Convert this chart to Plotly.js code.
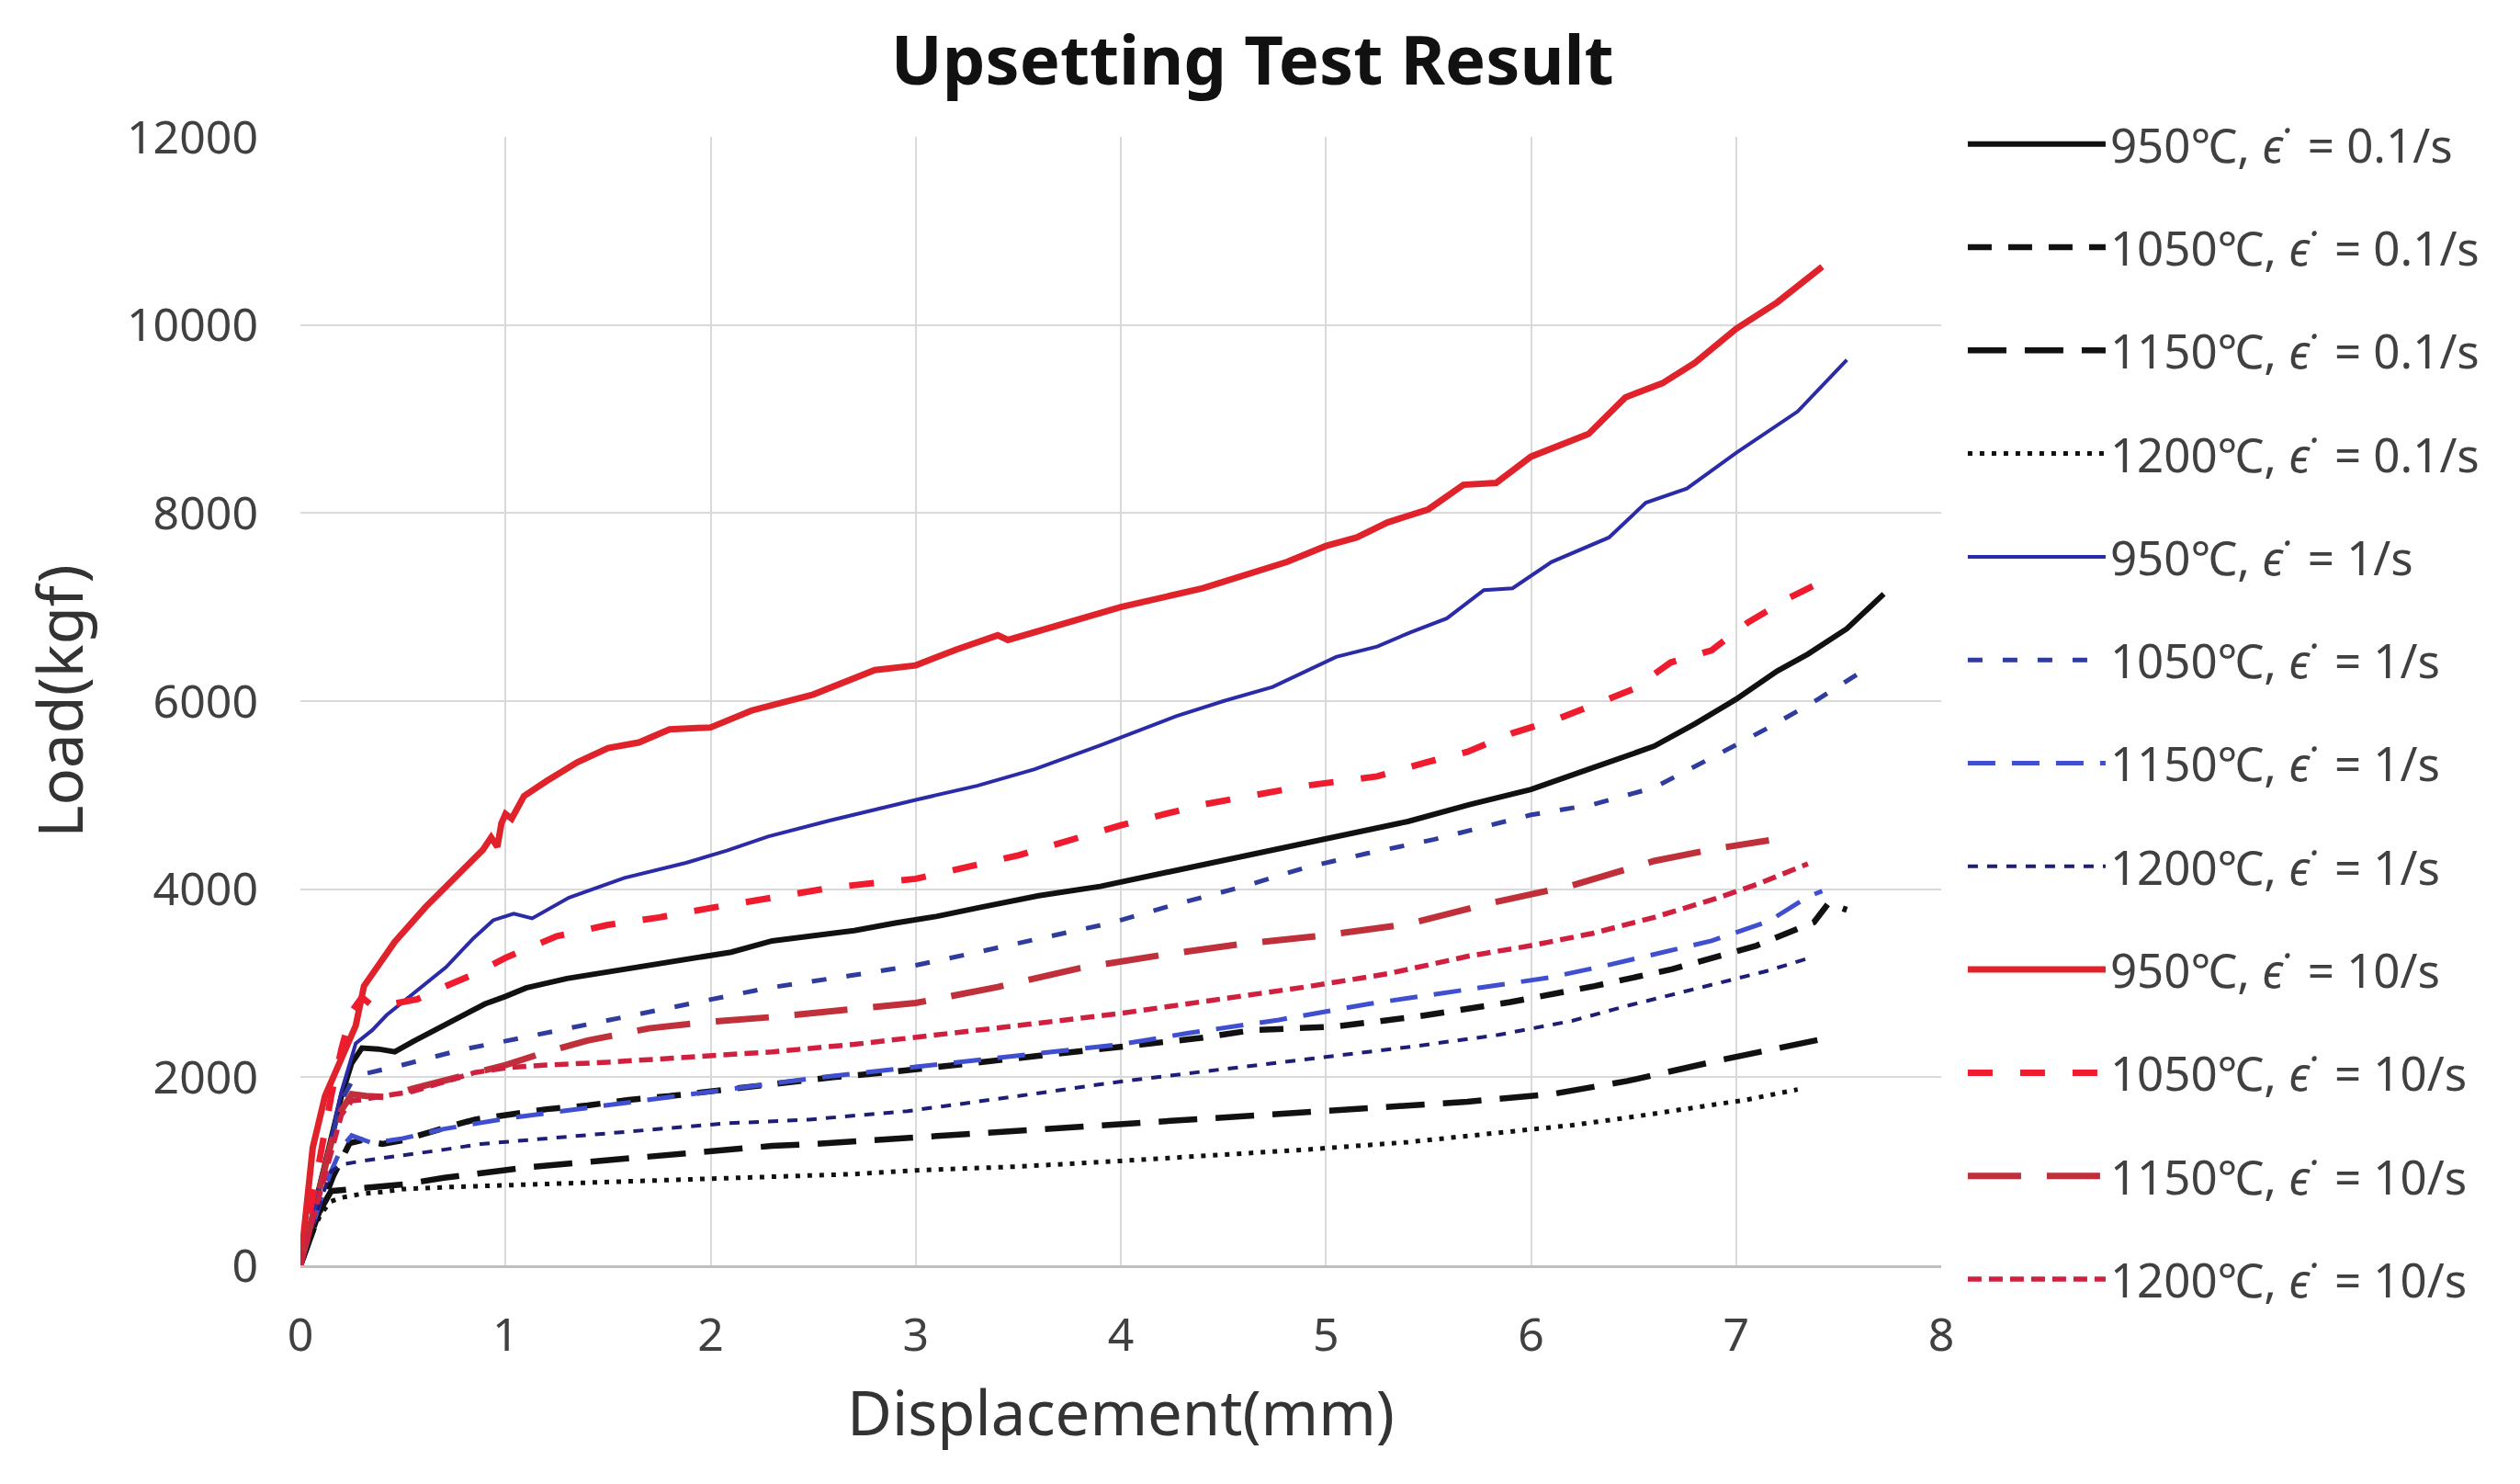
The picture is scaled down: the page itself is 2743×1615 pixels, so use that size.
<!DOCTYPE html>
<html>
<head>
<meta charset="utf-8">
<script src="https://cdn.plot.ly/plotly-3.0.1.min.js"></script>
<style>html,body{margin:0;padding:0;background:#fff;}#chart{width:2743px;height:1615px;}</style>
</head>
<body>
<div id="chart"></div>
<script>
// ---- data (displacement mm, load kgf) ----
const seriesNames = [
  "950℃, <i>ϵ̇</i>  = 0.1/s", "1050℃, <i>ϵ̇</i>  = 0.1/s", "1150℃, <i>ϵ̇</i>  = 0.1/s", "1200℃, <i>ϵ̇</i>  = 0.1/s",
  "950℃, <i>ϵ̇</i>  = 1/s", "1050℃, <i>ϵ̇</i>  = 1/s", "1150℃, <i>ϵ̇</i>  = 1/s", "1200℃, <i>ϵ̇</i>  = 1/s",
  "950℃, <i>ϵ̇</i>  = 10/s", "1050℃, <i>ϵ̇</i>  = 10/s", "1150℃, <i>ϵ̇</i>  = 10/s", "1200℃, <i>ϵ̇</i>  = 10/s"
];

const x950_01 = [0,0.05,0.1,0.15,0.2,0.25,0.3,0.38,0.46,0.55,0.68,0.8,0.9,1.0,1.1,1.3,1.5,1.7,1.9,2.1,2.3,2.5,2.7,2.9,3.1,3.3,3.6,3.9,4.2,4.5,4.8,5.1,5.4,5.7,6.0,6.3,6.6,6.8,7.0,7.2,7.35,7.54,7.72];
const y950_01 = [0,450,900,1350,1800,2150,2310,2300,2270,2380,2530,2680,2780,2860,2950,3050,3120,3180,3250,3330,3450,3500,3560,3640,3710,3800,3930,4030,4170,4300,4450,4580,4720,4900,5060,5290,5520,5760,6020,6320,6500,6770,7140];

const x1050_01 = [0,0.08,0.16,0.24,0.3,0.4,0.5,0.6,0.7,0.85,1.0,1.2,1.4,1.6,1.8,2.0,2.3,2.6,2.9,3.2,3.5,3.8,4.1,4.4,4.64,5.05,5.46,5.9,6.31,6.69,7.1,7.29,7.38,7.45,7.54];
const y1050_01 = [0,500,950,1300,1330,1290,1330,1400,1460,1550,1600,1660,1700,1760,1800,1850,1940,2000,2060,2130,2200,2270,2340,2420,2500,2540,2650,2800,2970,3150,3400,3580,3650,3850,3780];

const x1150_01 = [0,0.05,0.1,0.15,0.25,0.35,0.5,0.7,0.9,1.1,1.3,1.5,1.7,2.0,2.3,2.5,3.0,3.5,3.95,4.4,4.9,5.3,5.69,6.1,6.47,6.94,7.2,7.43];
const y1150_01 = [0,300,600,790,810,830,860,930,990,1040,1080,1120,1160,1220,1270,1290,1360,1430,1500,1560,1630,1680,1740,1820,1960,2190,2300,2410];

const x1200_01 = [0,0.05,0.1,0.15,0.2,0.3,0.4,0.5,0.7,1.0,1.3,1.7,2.0,2.3,2.7,3.0,3.5,4.0,4.5,4.9,5.4,5.84,6.2,6.47,6.8,7.05,7.3];
const y1200_01 = [0,300,550,680,720,760,780,810,830,850,870,895,920,940,970,1010,1050,1110,1170,1230,1310,1410,1490,1570,1680,1760,1870];

const x950_1 = [0,0.05,0.1,0.15,0.2,0.27,0.35,0.42,0.57,0.71,0.84,0.94,1.04,1.13,1.31,1.58,1.88,2.08,2.28,2.58,3.0,3.3,3.58,3.9,4.27,4.5,4.74,5.05,5.25,5.41,5.59,5.77,5.91,6.1,6.38,6.56,6.76,7.0,7.3,7.54];
const y950_1 = [0,400,850,1350,1850,2360,2500,2660,2930,3170,3470,3670,3740,3690,3910,4120,4280,4410,4560,4730,4950,5100,5275,5530,5840,6000,6150,6470,6580,6730,6880,7180,7200,7480,7740,8110,8260,8640,9080,9630];

const x1050_1 = [0,0.05,0.1,0.15,0.2,0.25,0.3,0.48,0.78,1.08,1.48,1.88,2.28,2.68,3.0,3.3,3.64,3.95,4.27,4.6,4.9,5.2,5.53,6.0,6.3,6.6,6.9,7.16,7.4,7.63];
const y1050_1 = [0,450,900,1350,1750,1950,2030,2120,2290,2420,2600,2770,2950,3080,3190,3330,3490,3640,3840,4030,4230,4380,4530,4790,4900,5080,5420,5720,6020,6340];

const x1150_1 = [0,0.05,0.1,0.15,0.2,0.25,0.35,0.5,0.7,1.0,1.5,2.0,2.5,3.0,3.5,4.0,4.33,4.77,5.21,5.65,6.09,6.37,6.63,6.88,7.16,7.35,7.42];
const y1150_1 = [0,350,700,1000,1250,1380,1300,1350,1450,1560,1700,1840,1990,2110,2230,2350,2470,2610,2780,2920,3060,3190,3320,3450,3660,3920,3980];

const x1200_1 = [0,0.05,0.1,0.15,0.2,0.3,0.48,0.7,0.88,1.1,1.28,1.5,1.68,2.08,2.48,2.96,3.5,3.95,4.4,4.9,5.4,5.84,6.2,6.47,6.94,7.15,7.36];
const y1200_1 = [0,350,700,1000,1070,1110,1160,1230,1290,1330,1370,1410,1440,1510,1550,1640,1800,1940,2060,2190,2320,2450,2600,2760,3020,3130,3270];

const x950_10 = [0,0.03,0.06,0.12,0.19,0.27,0.31,0.36,0.46,0.61,0.76,0.89,0.93,0.96,0.98,1.0,1.03,1.09,1.2,1.35,1.5,1.65,1.8,2.0,2.2,2.5,2.8,3.0,3.2,3.4,3.45,3.6,4.0,4.4,4.81,5.0,5.15,5.3,5.5,5.67,5.83,6.0,6.28,6.46,6.64,6.8,7.0,7.2,7.42];
const y950_10 = [0,600,1250,1800,2150,2550,2970,3130,3440,3810,4150,4420,4550,4450,4700,4800,4750,4990,5150,5350,5500,5560,5700,5720,5900,6070,6330,6380,6550,6700,6650,6750,7000,7200,7480,7650,7740,7900,8040,8300,8320,8600,8840,9230,9380,9600,9960,10240,10620];

const x1050_10 = [0,0.05,0.1,0.15,0.2,0.25,0.3,0.35,0.45,0.57,0.7,0.85,1.0,1.25,1.5,1.75,2.0,2.3,2.6,3.0,3.5,4.0,4.4,4.9,5.25,5.49,5.69,5.91,6.13,6.35,6.5,6.68,6.88,7.06,7.26,7.4];
const y1050_10 = [0,600,1200,1800,2300,2700,2850,2760,2780,2830,2960,3100,3270,3500,3620,3700,3800,3910,4020,4110,4360,4680,4900,5100,5200,5350,5460,5660,5810,6000,6130,6410,6540,6840,7100,7250];

const x1150_10 = [0,0.05,0.1,0.15,0.2,0.25,0.32,0.42,0.55,0.7,0.85,1.0,1.2,1.4,1.7,2.0,2.3,2.6,3.0,3.4,3.8,4.2,4.6,5.0,5.4,5.8,6.2,6.6,6.9,7.16];
const y1150_10 = [0,450,900,1300,1650,1820,1800,1790,1880,1960,2050,2130,2270,2390,2520,2590,2640,2700,2790,2960,3160,3300,3420,3510,3630,3850,4040,4300,4430,4520];

const x1200_10 = [0,0.05,0.1,0.15,0.2,0.25,0.3,0.4,0.55,0.7,0.85,1.0,1.2,1.5,1.9,2.3,2.7,3.0,3.5,4.0,4.5,4.9,5.3,5.7,6.0,6.3,6.6,6.9,7.1,7.35];
const y1200_10 = [0,400,850,1250,1600,1750,1760,1800,1850,1950,2050,2100,2130,2160,2210,2270,2350,2430,2550,2680,2830,2960,3100,3290,3400,3530,3700,3900,4050,4270];

const xTickVals = [0,1,2,3,4,5,6,7,8];
const yTickVals = [0,2000,4000,6000,8000,10000,12000];

// ---- styles ----
const xs = [x950_01,x1050_01,x1150_01,x1200_01,x950_1,x1050_1,x1150_1,x1200_1,x950_10,x1050_10,x1150_10,x1200_10];
const ys = [y950_01,y1050_01,y1150_01,y1200_01,y950_1,y1050_1,y1150_1,y1200_1,y950_10,y1050_10,y1150_10,y1200_10];
const colors = ["#111111","#111111","#111111","#111111",
                "#2B2BA8","#2F3C9E","#3F4FD0","#1E1E78",
                "#E0232B","#EE1C2E","#C0303A","#D0203F"];
const widths = [6,6.5,6.5,5, 4,5,5,4, 7,7,7,5.5];
const dashes = ["solid","26px,18px","42px,20px","5px,8px",
                "solid","16px,22px","30px,18px","11px,10px",
                "solid","27px,30px","58px,28px","15px,8px"];

const traces = seriesNames.map((name,i)=>({
  type:"scatter", mode:"lines", name:name,
  x: xs[i], y: ys[i],
  line:{color:colors[i], width:widths[i], dash:dashes[i]},
  legendgroup:"g"+i
}));

const fontFam = "'Noto Sans', 'Open Sans', sans-serif";
const layout = {
  width:2743, height:1615,
  paper_bgcolor:"#ffffff", plot_bgcolor:"#ffffff",
  margin:{l:327, r:630, t:149, b:238},
  title:{text:"<b>Upsetting Test Result</b>", x:0.497, xref:"container", xanchor:"center",
         y:0.959, yref:"container", yanchor:"middle",
         font:{family:fontFam, size:74, color:"#111111"}},
  xaxis:{range:[0,8], tickvals:xTickVals, tickformat:"d", showgrid:true, gridcolor:"#d9d9d9", gridwidth:2,
         zeroline:false, showline:true, linecolor:"#bfbfbf", linewidth:3,
         ticks:"", ticklabelstandoff:30,
         tickfont:{family:fontFam, size:50, color:"#404040"},
         title:{text:"Displacement(mm)", standoff:32, font:{family:fontFam, size:67, color:"#333333"}}},
  yaxis:{range:[0,12000], tickvals:yTickVals, tickformat:"d", showgrid:true, gridcolor:"#d9d9d9", gridwidth:2,
         zeroline:false, showline:false,
         ticks:"", ticklabelstandoff:45,
         tickfont:{family:fontFam, size:50, color:"#404040"},
         title:{text:"Load(kgf)", standoff:25, font:{family:fontFam, size:67, color:"#333333"}}},
  showlegend:true,
  legend:{x:1.0134, xanchor:"left", y:1.026, yanchor:"top", traceorder:"grouped",
          tracegroupgap:43, itemwidth:150, bgcolor:"rgba(0,0,0,0)", maxheight:1500,
          font:{family:fontFam, size:51, color:"#404040"}}
};

Plotly.newPlot("chart", traces, layout, {staticPlot:true, displayModeBar:false});
</script>
</body>
</html>
